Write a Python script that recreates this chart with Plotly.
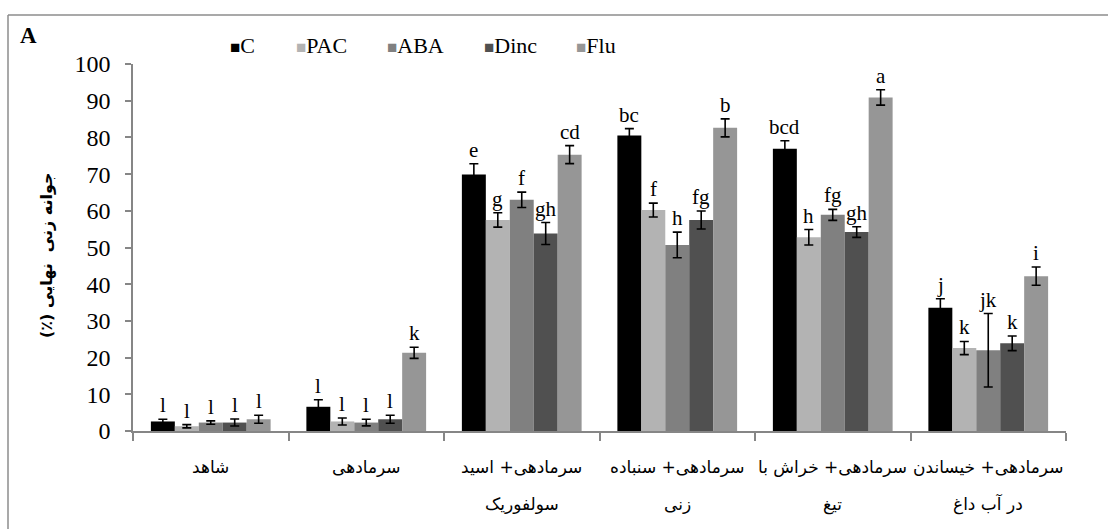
import plotly.graph_objects as go

RLM = "\u200f"

# Treatments (x categories), two-line labels
categories = ["شاهد", "سرمادهی", "سرمادهی+ اسید", "سرمادهی+ سنباده",
              "سرمادهی+ خراش با", "سرمادهی+ خیساندن"]
second_line = ["", "", "سولفوریک", "زنی", "تیغ", "در آب داغ"]

series_names = ["C", "PAC", "ABA", "Dinc", "Flu"]
series_colors = ["#000000", "#b3b3b3", "#808080", "#505050", "#969696"]

# Final germination (%) per treatment, one list per series
C_vals = [2.6, 6.6, 69.9, 80.5, 76.9, 33.6]
PAC_vals = [1.3, 2.6, 57.5, 60.2, 52.8, 22.6]
ABA_vals = [2.3, 2.3, 63.0, 50.7, 58.9, 22.0]
Dinc_vals = [2.3, 3.2, 53.8, 57.5, 54.2, 23.9]
Flu_vals = [3.2, 21.3, 75.3, 82.6, 90.9, 42.2]

# Standard errors
C_err = [0.6, 1.9, 2.9, 1.9, 2.2, 2.45]
PAC_err = [0.45, 0.95, 1.95, 1.9, 2.1, 1.8]
ABA_err = [0.45, 0.9, 2.1, 3.5, 1.5, 10.0]
Dinc_err = [0.95, 1.1, 3.0, 2.45, 1.45, 2.0]
Flu_err = [1.1, 1.5, 2.45, 2.45, 2.1, 2.5]

# Mean-comparison letters
C_letters = ["l", "l", "e", "bc", "bcd", "j"]
PAC_letters = ["l", "l", "g", "f", "h", "k"]
ABA_letters = ["l", "l", "f", "h", "fg", "jk"]
Dinc_letters = ["l", "l", "gh", "fg", "gh", "k"]
Flu_letters = ["l", "k", "cd", "b", "a", "i"]

y_ticks = [0, 10, 20, 30, 40, 50, 60, 70, 80, 90, 100]
y_title = RLM + "جوانه زنی  نهایی (٪)" + RLM

values = [C_vals, PAC_vals, ABA_vals, Dinc_vals, Flu_vals]
errors = [C_err, PAC_err, ABA_err, Dinc_err, Flu_err]
letters = [C_letters, PAC_letters, ABA_letters, Dinc_letters, Flu_letters]

W, H = 1108, 529
ML, MR, MT, MB = 133, 42, 64, 98
PW, PH = W - ML - MR, H - MT - MB

def px_x(p):
    return (p - ML) / PW

def px_y(p):
    return (H - MB - p) / PH

fig = go.Figure()
n = len(series_names)
for i in range(n):
    fig.add_trace(go.Bar(
        x=categories, y=values[i], name=series_names[i],
        marker=dict(color=series_colors[i], line=dict(width=0)),
        offsetgroup=str(i),
        error_y=dict(type="data", array=errors[i], visible=True,
                     color="#000000", thickness=1.6, width=4.5),
        showlegend=False,
    ))

annotations = []
serif = "Liberation Serif, Times New Roman, serif"
arabic = "DejaVu Sans, sans-serif"

# Letters above error bars; bars are placed within each category slot
bargap = 0.23
slot = (1 - bargap) / n
for i in range(n):
    for j, cat in enumerate(categories):
        off = -0.5 + bargap / 2 + slot * (i + 0.5)
        annotations.append(dict(
            x=j + off, y=values[i][j] + errors[i][j], xref="x", yref="y",
            text=letters[i][j], showarrow=False, yanchor="bottom",
            yshift=0, font=dict(family=serif, size=21, color="#000000"),
        ))

# Category labels, two lines
for j, cat in enumerate(categories):
    annotations.append(dict(
        x=j, y=px_y(467), xref="x", yref="paper", text=cat,
        showarrow=False, yanchor="middle",
        font=dict(family=arabic, size=17, color="#000000"),
    ))
    if second_line[j]:
        annotations.append(dict(
            x=j, y=px_y(504), xref="x", yref="paper", text=second_line[j],
            showarrow=False, yanchor="middle",
            font=dict(family=arabic, size=17, color="#000000"),
        ))

# Legend row
legend_x = [228, 294, 385, 482, 574]
for i in range(n):
    annotations.append(dict(
        x=px_x(legend_x[i]), y=px_y(45), xref="paper", yref="paper",
        xanchor="left", yanchor="middle", showarrow=False,
        text=f"<span style='color:{series_colors[i]};font-size:17px'>■</span>{series_names[i]}",
        font=dict(family=serif, size=22, color="#000000"),
    ))

# Panel letter
annotations.append(dict(
    x=px_x(18), y=px_y(36), xref="paper", yref="paper",
    xanchor="left", yanchor="middle", showarrow=False,
    text="<b>A</b>", font=dict(family=serif, size=23, color="#000000"),
))

# Y axis title
annotations.append(dict(
    x=px_x(46), y=px_y(255), xref="paper", yref="paper",
    xanchor="center", yanchor="middle", showarrow=False, textangle=-90,
    text="<b>" + y_title + "</b>",
    font=dict(family=arabic, size=16, color="#000000"),
))

shapes = [
    dict(type="line", xref="paper", yref="paper",
         x0=px_x(8), x1=px_x(W + 5), y0=px_y(15), y1=px_y(15),
         line=dict(color="#8c8c8c", width=1.5)),
    dict(type="line", xref="paper", yref="paper",
         x0=px_x(8), x1=px_x(8), y0=px_y(15), y1=px_y(H + 5),
         line=dict(color="#8c8c8c", width=1.5)),
]

fig.update_layout(
    width=W, height=H,
    margin=dict(l=ML, r=MR, t=MT, b=MB, pad=0),
    paper_bgcolor="#ffffff", plot_bgcolor="#ffffff",
    barmode="group", bargap=bargap, bargroupgap=0,
    annotations=annotations, shapes=shapes,
    showlegend=False,
    xaxis=dict(
        type="category", showticklabels=False, showgrid=False,
        showline=True, linecolor="#868686", linewidth=1.5,
        ticks="outside", ticklen=8, tickcolor="#868686", tickwidth=1.5,
        tickson="boundaries", zeroline=False,
    ),
    yaxis=dict(
        range=[0, 100], tickvals=y_ticks, showgrid=False,
        showline=True, linecolor="#868686", linewidth=1.5,
        ticks="outside", ticklen=6, tickcolor="#868686", tickwidth=1.5,
        tickfont=dict(family=serif, size=24, color="#000000"),
        ticklabelstandoff=10,
        zeroline=False,
    ),
)

fig.write_html("out.html")
